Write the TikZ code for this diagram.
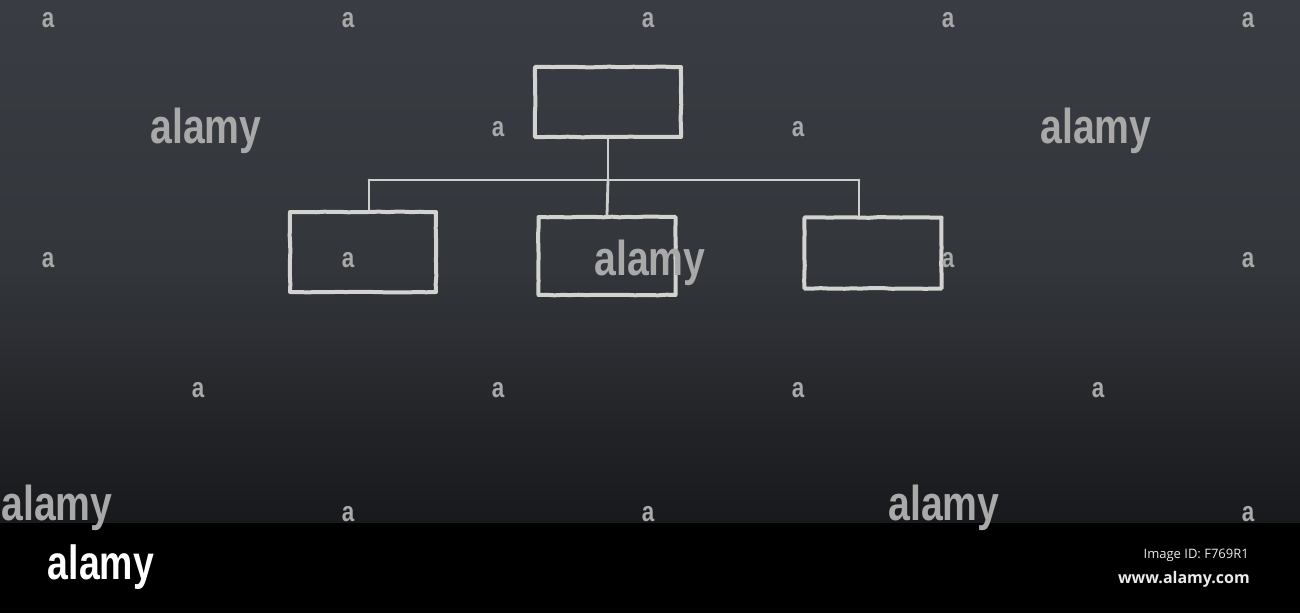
\documentclass[tikz,border=0pt]{standalone}
\usepackage{fontspec}
\setmainfont{Liberation Sans}
\newfontfamily\uifont{Open Sans}
\usetikzlibrary{decorations.pathmorphing}
\definecolor{boardtop}{HTML}{393C42}
\definecolor{boardmid}{HTML}{33363B}
\definecolor{boardbot}{HTML}{18191C}
\definecolor{chalk}{HTML}{D2D2D0}
\definecolor{wm}{HTML}{A9A9A9}
\tikzset{
  chalkbox/.style={draw=chalk, line width=4pt, rectangle, inner sep=0pt, line join=round,
    decorate, decoration={random steps, segment length=8pt, amplitude=0.35pt}},
  chalkline/.style={draw=chalk!95!gray, line width=2.8pt, line cap=round},
  wmbig/.style={text=wm, font=\bfseries\fontsize{49}{49}\selectfont, xscale=0.8, inner sep=0pt},
  wmsmall/.style={text=wm, font=\bfseries\fontsize{28}{28}\selectfont, xscale=0.8, inner sep=0pt},
}
\begin{document}
\begin{tikzpicture}[x=1pt,y=-1pt]
\useasboundingbox (0,0) rectangle (1300,613);
% chalkboard
\shade[top color=boardtop, bottom color=boardbot, middle color=boardmid] (0,0) rectangle (1300,523);
\fill[black] (0,523) rectangle (1300,613);
% boxes
\node[chalkbox, minimum width=146pt, minimum height=70pt] (top) at (608,102) {};
\node[chalkbox, minimum width=146pt, minimum height=80pt] (left) at (363,252) {};
\node[chalkbox, minimum width=137pt, minimum height=78pt] (mid) at (607,256) {};
\node[chalkbox, minimum width=137pt, minimum height=71pt] (right) at (873,253) {};
% connectors
\coordinate (busL) at (369,180);
\coordinate (busR) at (859,180);
\draw[chalkline] (busL) -- (busR);
\draw[chalkline] (top.south) -- (top.south |- busL);
\draw[chalkline] (busL) -- (busL |- left.north);
\draw[chalkline] (top.south |- busL) -- (mid.north);
\draw[chalkline] (busR) -- (busR |- right.north);
% watermarks
\foreach \p/\n in {{(206,131)}/w1,{(1096,131)}/w2,{(650,263)}/w3,{(57,508)}/w4,{(944,508)}/w5}
  \node[wmbig] (\n) at \p {alamy};
\foreach \p/\n in {{(48,20)}/a1,{(348,20)}/a2,{(648,20)}/a3,{(948,20)}/a4,{(1248,20)}/a5,
  {(498,129)}/a6,{(798,129)}/a7,{(48,260)}/a8,{(348,260)}/a9,{(948,260)}/a10,{(1248,260)}/a11,
  {(198,390)}/a12,{(498,390)}/a13,{(798,390)}/a14,{(1098,390)}/a15,
  {(348,514)}/a16,{(648,514)}/a17,{(1248,514)}/a18}
  \node[wmsmall] (\n) at \p {a};
% bottom bar
\node[text=white, font=\bfseries\fontsize{48}{48}\selectfont, xscale=0.78, inner sep=0pt] (logo) at (101,567) {alamy};
\node[text=white!92!black, font=\uifont\fontsize{13}{13}\selectfont, anchor=east, inner sep=0pt] (imgid) at (1249,555) {Image ID: F769R1};
\node[text=white!92!black, font=\uifont\bfseries\fontsize{16}{16}\selectfont, anchor=east, inner sep=0pt] (url) at (1250,579) {www.alamy.com};
\end{tikzpicture}
\end{document}
